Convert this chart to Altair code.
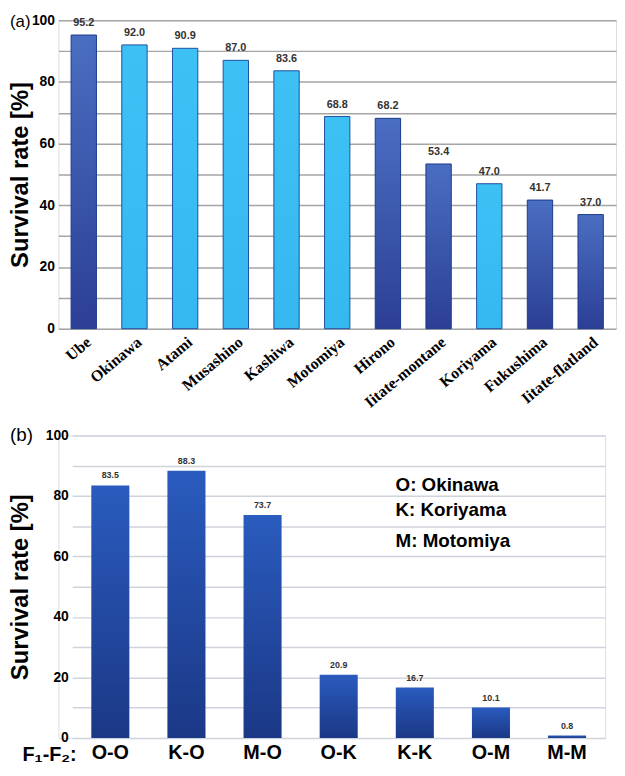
import altair as alt
import pandas as pd

# ---------------- data ----------------
sites = ["Ube", "Okinawa", "Atami", "Musashino", "Kashiwa", "Motomiya", "Hirono",
         "Iitate-montane", "Koriyama", "Fukushima", "Iitate-flatland"]
site_rates = [95.2, 92.0, 90.9, 87.0, 83.6, 68.8, 68.2, 53.4, 47.0, 41.7, 37.0]
site_shade = ["dark", "light", "light", "light", "light", "light", "dark", "dark",
              "light", "dark", "dark"]

crosses = ["O-O", "K-O", "M-O", "O-K", "K-K", "O-M", "M-M"]
cross_rates = [83.5, 88.3, 73.7, 20.9, 16.7, 10.1, 0.8]

legend_lines = ["O: Okinawa", "K: Koriyama", "M: Motomiya"]
y_ticks = list(range(0, 101, 10))

# ---------------- styles ----------------
SANS = "Liberation Sans"
NARROW = "Liberation Sans Narrow, Liberation Sans"
SERIF = "Liberation Serif"

W_A, H_A = 564, 312
W_B, H_B = 553, 306
B_SHIFT = 14  # panel (b) plot starts a bit further right

grad_dark = alt.Gradient(
    gradient="linear",
    stops=[alt.GradientStop(color="#4a6ec2", offset=0),
           alt.GradientStop(color="#2b3f95", offset=1)],
    x1=0, x2=0, y1=0, y2=1)
grad_light = alt.Gradient(
    gradient="linear",
    stops=[alt.GradientStop(color="#3dc1f5", offset=0),
           alt.GradientStop(color="#35b8f0", offset=1)],
    x1=0, x2=0, y1=0, y2=1)
grad_b = alt.Gradient(
    gradient="linear",
    stops=[alt.GradientStop(color="#2a5bbe", offset=0),
           alt.GradientStop(color="#1b3886", offset=1)],
    x1=0, x2=0, y1=0, y2=1)

# ---------------- panel (a) ----------------
df_a = pd.DataFrame({"site": sites, "rate": site_rates, "shade": site_shade})
df_a["label"] = [f"{v:.1f}" for v in site_rates]

xa = alt.X("site:N", sort=sites,
           scale=alt.Scale(paddingInner=0.5, paddingOuter=0.25),
           axis=alt.Axis(title=None, labelAngle=-40, labelFont=SERIF,
                         labelFontWeight="bold", labelFontSize=16,
                         labelColor="black", ticks=False, domain=False,
                         grid=False, labelPadding=5))
ya = alt.Y("rate:Q", scale=alt.Scale(domain=[0, 100], nice=False),
           axis=alt.Axis(title="Survival rate [%]", values=y_ticks,
                         labelExpr="datum.value % 20 == 0 ? datum.label : ''",
                         labelFont=NARROW, labelFontWeight="bold",
                         labelFontSize=14, labelColor="black", labelPadding=4,
                         ticks=False, domain=False, grid=True,
                         gridColor="#a5a5a5", gridWidth=1.5,
                         titleFont=SANS, titleFontSize=24, titleFontWeight="bold",
                         titleColor="black", titleAngle=-90, titleX=-38,
                         titleY=H_A / 2, titleAlign="center",
                         titleBaseline="middle"))

base_a = alt.Chart(df_a).encode(x=xa, y=ya)
bars_dark = base_a.transform_filter("datum.shade == 'dark'").mark_bar(
    fill=grad_dark, stroke="#1d3a8a", strokeWidth=1)
bars_light = base_a.transform_filter("datum.shade == 'light'").mark_bar(
    fill=grad_light, stroke="#1f4fa0", strokeWidth=1)
vals_a = base_a.mark_text(baseline="middle", dy=-12, fontSize=11, font=SANS,
                          fontWeight="bold", color="#333333").encode(text="label:N")
tag_a = alt.Chart(pd.DataFrame({"t": ["(a)"]})).mark_text(
    align="left", baseline="middle", fontSize=17, font=SANS, color="black"
).encode(text="t:N", x=alt.value(-49), y=alt.value(2))

panel_a = alt.layer(bars_dark, bars_light, vals_a, tag_a).properties(
    width=W_A, height=H_A)

# ---------------- panel (b) ----------------
df_b = pd.DataFrame({"cross": crosses, "rate": cross_rates})
df_b["label"] = [f"{v:.1f}" for v in cross_rates]

xb = alt.X("cross:N", sort=crosses,
           scale=alt.Scale(range=[B_SHIFT, W_B], paddingInner=0.5,
                           paddingOuter=0.25),
           axis=alt.Axis(title="F\u2081-F\u2082:", labelAngle=0, labelFont=SANS,
                         labelFontWeight="bold", labelFontSize=20,
                         labelColor="black", ticks=False, domain=False,
                         grid=False, labelPadding=5,
                         titleFont=SANS, titleFontSize=20, titleFontWeight="bold",
                         titleColor="black", titleX=18, titleY=23,
                         titleAlign="right", titleBaseline="alphabetic"))
yb = alt.Y("rate:Q", scale=alt.Scale(domain=[0, 100], nice=False),
           axis=alt.Axis(title="Survival rate [%]", values=y_ticks,
                         labelExpr="datum.value % 20 == 0 ? datum.label : ''",
                         labelFont=NARROW, labelFontWeight="bold",
                         labelFontSize=14, labelColor="black", labelPadding=4,
                         offset=-B_SHIFT,
                         ticks=False, domain=False, grid=True,
                         gridColor="#cfd3dc", gridWidth=1.5,
                         titleFont=SANS, titleFontSize=24, titleFontWeight="bold",
                         titleColor="black", titleAngle=-90, titleX=-52,
                         titleY=H_B / 2, titleAlign="center",
                         titleBaseline="middle"))

base_b = alt.Chart(df_b).encode(x=xb, y=yb)
bars_b = base_b.mark_bar(fill=grad_b)
vals_b = base_b.mark_text(baseline="middle", dy=-10, fontSize=9, font=SANS,
                          fontWeight="bold", color="#333333").encode(text="label:N")
tag_b = alt.Chart(pd.DataFrame({"t": ["(b)"]})).mark_text(
    align="left", baseline="middle", fontSize=19, font=SANS, color="black"
).encode(text="t:N", x=alt.value(-49), y=alt.value(0))

legend_x = 341
legend_y = [50, 75, 107]
legend_layers = [
    alt.Chart(pd.DataFrame({"t": [line]})).mark_text(
        align="left", baseline="middle", fontSize=19, font=SANS,
        fontWeight="bold", color="black"
    ).encode(text="t:N", x=alt.value(legend_x), y=alt.value(ly))
    for line, ly in zip(legend_lines, legend_y)
]

panel_b = alt.layer(bars_b, vals_b, tag_b, *legend_layers).properties(
    width=W_B, height=H_B)

chart = alt.vconcat(panel_a, panel_b, spacing=15).properties(
    padding={"left": 0, "top": 0, "right": 0, "bottom": 0}
).configure_view(stroke=None).configure(background="white")

chart.save("out.html", embed_options={"renderer": "svg", "actions": False})
